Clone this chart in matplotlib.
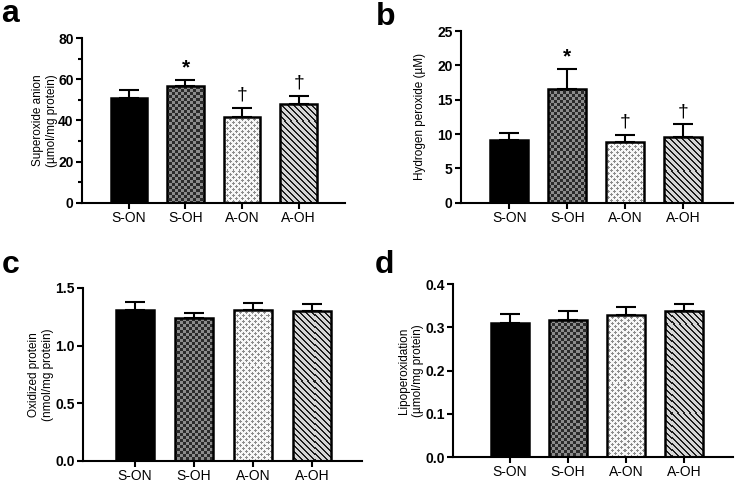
import numpy as np
import matplotlib
matplotlib.use('Agg')
from matplotlib import pyplot as plt
from matplotlib.ticker import MultipleLocator

plt.rcParams['font.family'] = ['Liberation Sans', 'DejaVu Sans']

groups = ['S-ON', 'S-OH', 'A-ON', 'A-OH']

# panel data: means and SEM (upper bar only)
superoxide = [51.0, 56.7, 41.8, 48.0]
superoxide_err = [3.8, 3.0, 4.4, 3.8]
h2o2 = [9.1, 16.5, 8.85, 9.5]
h2o2_err = [1.0, 2.9, 1.05, 1.9]
oxprot = [1.31, 1.235, 1.31, 1.30]
oxprot_err = [0.065, 0.047, 0.062, 0.06]
lipo = [0.309, 0.318, 0.328, 0.338]
lipo_err = [0.022, 0.020, 0.020, 0.016]

marks_ab = ['', '*', '\u2020', '\u2020']


def texture(kind, w, h):
    i, j = np.mgrid[0:h, 0:w]
    img = np.ones((h, w, 3))
    if kind == 'checker':
        m = ((i // 3 + j // 3) % 2) == 0
        img[:] = 0.55
        img[m] = 0.17
    elif kind == 'dots':
        img[:] = 0.97
        a, b = i % 6, j % 6
        d1 = np.minimum(np.minimum(a + b, 6 - a + b), np.minimum(a + 6 - b, 12 - a - b))
        d2 = np.abs(a - 3) + np.abs(b - 3)
        m = np.minimum(d1, d2) <= 1
        img[m] = 0.55
    elif kind == 'stripes':
        img[:] = 0.84
        m = ((i - j) % 6) < 2
        img[m] = 0.12
    return img


fills = ['solid', 'checker', 'dots', 'stripes']


def panel(ax, vals, errs, ylim, step, ylabel, xlim, fmt, labelx, minor=False, marks=None):
    x = np.arange(len(groups))
    bbox = ax.get_position()
    fw, fh = ax.figure.get_size_inches() * ax.figure.dpi
    pw, ph = int(bbox.width * fw), int(bbox.height * fh)
    bars = ax.bar(x, vals, width=0.65, color='black', zorder=2)
    for b, f in zip(bars, fills):
        if f == 'solid':
            continue
        b.set_facecolor('white')
        im = ax.imshow(texture(f, pw, ph), extent=(0, 1, 0, 1), transform=ax.transAxes,
                       aspect='auto', interpolation='nearest', zorder=2.5)
        im.set_clip_path(b)
    ax.bar(x, vals, width=0.65, facecolor='none', edgecolor='black', linewidth=1.8, zorder=3)
    ax.errorbar(x, vals, yerr=[np.zeros(len(vals)), errs], fmt='none', ecolor='black',
                elinewidth=1.5, capsize=7, capthick=1.5, zorder=1.5)
    if marks:
        for xi, v, e, m in zip(x, vals, errs, marks):
            if m == '*':
                ax.annotate(m, (xi, v + e), xytext=(0, 2), textcoords='offset points',
                            ha='center', va='bottom', fontsize=15, fontweight='bold')
            elif m:
                ax.annotate(m, (xi, v + e), xytext=(0, 3), textcoords='offset points',
                            ha='center', va='bottom', fontsize=14)
    ax.set_xlim(*xlim)
    ax.set_ylim(*ylim)
    ax.yaxis.set_major_locator(MultipleLocator(step))
    if minor:
        ax.yaxis.set_minor_locator(MultipleLocator(step / 2))
    ax.yaxis.set_major_formatter(lambda v, p: fmt.format(v))
    ax.set_xticks(x, groups, fontsize=10)
    ax.set_ylabel(ylabel, fontsize=8.5)
    ax.yaxis.set_label_coords(labelx, 0.5)
    ax.spines[['top', 'right']].set_visible(False)
    ax.spines[['left', 'bottom']].set_linewidth(1.5)
    ax.tick_params(width=1.5, length=4)
    ax.tick_params(axis='x', pad=2)
    ax.tick_params(axis='y', pad=2, labelsize=10)
    ax.tick_params(which='minor', width=1.5, length=3)
    for t in ax.get_yticklabels():
        t.set_fontweight('bold')


fig = plt.figure(figsize=(7.4, 4.83), dpi=100)
ax_a = fig.add_axes([0.1108, 0.5803, 0.3554, 0.341])
ax_b = fig.add_axes([0.623, 0.5803, 0.3676, 0.3555])
ax_c = fig.add_axes([0.1122, 0.0462, 0.377, 0.3576])
ax_d = fig.add_axes([0.612, 0.0538, 0.378, 0.358])

panel(ax_a, superoxide, superoxide_err, (0, 80), 20,
      'Superoxide anion\n(\u00b5mol/mg protein)', (-0.83, 3.82), '{:.0f}', -0.092,
      minor=True, marks=marks_ab)
panel(ax_b, h2o2, h2o2_err, (0, 25), 5,
      'Hydrogen peroxide (\u00b5M)', (-0.83, 3.86), '{:.0f}', -0.13, marks=marks_ab)
panel(ax_c, oxprot, oxprot_err, (0, 1.5), 0.5,
      'Oxidized protein\n(nmol/mg protein)', (-0.88, 3.85), '{:.1f}', -0.105)
panel(ax_d, lipo, lipo_err, (0, 0.4), 0.1,
      'Lipoperoxidation\n(\u00b5mol/mg protein)', (-0.98, 3.84), '{:.1f}', -0.105)

for xt, yt, s in [(0.002, 0.955, 'a'), (0.508, 0.948, 'b'), (0.002, 0.435, 'c'), (0.506, 0.435, 'd')]:
    fig.text(xt, yt, s, fontsize=23, fontweight='bold', va='baseline')

fig.savefig('out.png', dpi=100)
